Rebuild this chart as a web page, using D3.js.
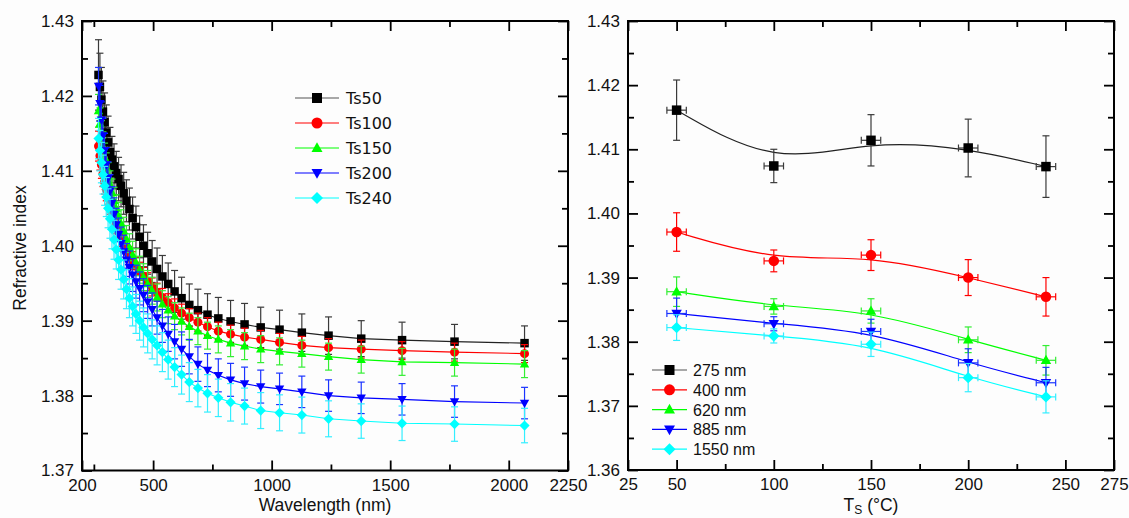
<!DOCTYPE html>
<html><head><meta charset="utf-8">
<script src="https://cdn.jsdelivr.net/npm/d3@7"></script>
<style>body{margin:0;background:#fff}svg{display:block}</style>
</head><body><svg id="c" width="1129" height="518"></svg>
<script>
// ---------- Left panel data ----------
const wavelength = [269.6,275.6,281.8,288.4,295.2,302.4,310.0,317.9,326.3,335.1,344.4,354.3,364.7,375.8,387.5,400.0,413.3,427.6,442.9,459.3,476.9,496.0,516.7,539.1,563.6,590.5,620.0,652.6,688.9,729.4,775.0,826.7,885.7,953.8,1033.3,1127.3,1240.0,1377.8,1550.0,1771.4,2066.7];
const nTs50 = [1.4228,1.4212,1.4195,1.4179,1.4165,1.4151,1.4138,1.4125,1.4115,1.4106,1.4097,1.4089,1.4080,1.4070,1.4060,1.4049,1.4037,1.4025,1.4012,1.4000,1.3990,1.3979,1.3969,1.3959,1.3949,1.3939,1.3930,1.3921,1.3914,1.3908,1.3903,1.3899,1.3895,1.3891,1.3888,1.3884,1.3880,1.3876,1.3874,1.3872,1.3870];
const nTs100 = [1.4133,1.4120,1.4108,1.4096,1.4085,1.4075,1.4065,1.4055,1.4046,1.4037,1.4028,1.4019,1.4011,1.4003,1.3995,1.3987,1.3980,1.3973,1.3966,1.3959,1.3952,1.3945,1.3938,1.3931,1.3924,1.3917,1.3910,1.3904,1.3898,1.3892,1.3886,1.3882,1.3878,1.3875,1.3871,1.3867,1.3864,1.3862,1.3860,1.3858,1.3856];
const nTs150 = [1.4180,1.4163,1.4147,1.4132,1.4118,1.4105,1.4093,1.4082,1.4071,1.4060,1.4050,1.4040,1.4030,1.4020,1.4009,1.3998,1.3988,1.3978,1.3968,1.3958,1.3949,1.3940,1.3931,1.3922,1.3914,1.3906,1.3899,1.3892,1.3886,1.3880,1.3875,1.3870,1.3866,1.3862,1.3859,1.3856,1.3852,1.3848,1.3845,1.3844,1.3842];
const nTs200 = [1.4213,1.4190,1.4168,1.4147,1.4127,1.4108,1.4090,1.4073,1.4057,1.4042,1.4028,1.4015,1.4003,1.3992,1.3981,1.3971,1.3961,1.3952,1.3943,1.3934,1.3925,1.3915,1.3904,1.3893,1.3882,1.3872,1.3862,1.3852,1.3842,1.3834,1.3827,1.3821,1.3816,1.3812,1.3809,1.3805,1.3800,1.3797,1.3795,1.3792,1.3790];
const nTs240 = [1.4143,1.4127,1.4111,1.4095,1.4080,1.4065,1.4050,1.4036,1.4022,1.4008,1.3995,1.3981,1.3968,1.3955,1.3942,1.3930,1.3919,1.3909,1.3900,1.3891,1.3883,1.3875,1.3867,1.3858,1.3848,1.3838,1.3828,1.3818,1.3810,1.3803,1.3797,1.3791,1.3786,1.3780,1.3777,1.3774,1.3769,1.3766,1.3763,1.3762,1.3760];
const errTs50 = [0.0047,0.0045,0.0043,0.0041,0.0039,0.0037,0.0035,0.0033,0.0031,0.0030,0.0029,0.0029,0.0028,0.0028,0.0028,0.0028,0.0028,0.0028,0.0028,0.0028,0.0028,0.0028,0.0028,0.0028,0.0028,0.0028,0.0028,0.0028,0.0028,0.0028,0.0028,0.0028,0.0028,0.0027,0.0026,0.0025,0.0025,0.0024,0.0024,0.0023,0.0023];
const errTs100 = [0.0020,0.0019,0.0018,0.0017,0.0016,0.0015,0.0014,0.0013,0.0013,0.0012,0.0012,0.0012,0.0012,0.0012,0.0012,0.0012,0.0012,0.0012,0.0012,0.0012,0.0012,0.0012,0.0012,0.0012,0.0012,0.0012,0.0012,0.0012,0.0012,0.0012,0.0012,0.0012,0.0012,0.0012,0.0012,0.0012,0.0012,0.0012,0.0012,0.0012,0.0012];
const errTs150 = [0.0022,0.0021,0.0020,0.0020,0.0019,0.0019,0.0018,0.0018,0.0018,0.0018,0.0018,0.0018,0.0018,0.0018,0.0018,0.0018,0.0018,0.0018,0.0018,0.0018,0.0018,0.0018,0.0018,0.0018,0.0018,0.0018,0.0018,0.0018,0.0018,0.0018,0.0018,0.0018,0.0018,0.0018,0.0018,0.0018,0.0018,0.0018,0.0018,0.0018,0.0018];
const errTs200 = [0.0025,0.0024,0.0024,0.0023,0.0023,0.0023,0.0022,0.0022,0.0022,0.0022,0.0022,0.0022,0.0022,0.0022,0.0022,0.0022,0.0022,0.0022,0.0022,0.0022,0.0022,0.0022,0.0022,0.0022,0.0023,0.0023,0.0023,0.0023,0.0023,0.0022,0.0022,0.0022,0.0022,0.0022,0.0021,0.0021,0.0021,0.0021,0.0021,0.0021,0.0021];
const errTs240 = [0.0027,0.0027,0.0027,0.0026,0.0026,0.0026,0.0026,0.0026,0.0026,0.0026,0.0026,0.0026,0.0026,0.0026,0.0026,0.0026,0.0026,0.0026,0.0026,0.0026,0.0026,0.0026,0.0026,0.0026,0.0026,0.0026,0.0026,0.0026,0.0025,0.0025,0.0025,0.0025,0.0024,0.0024,0.0024,0.0024,0.0024,0.0023,0.0023,0.0023,0.0023];
const leftNames = ["Ts50","Ts100","Ts150","Ts200","Ts240"];
const leftXTicks = [200,500,1000,1500,2000,2250];
const leftXMinor = [250,750,1250,1750];
const leftYTicks = [1.37,1.38,1.39,1.40,1.41,1.42,1.43];
const leftYMinor = [1.375,1.385,1.395,1.405,1.415,1.425];

// ---------- Right panel data ----------
const tsTemps = [50,100,150,200,240];
const tsErr = [5,5,5,5,5];
const n275 = [1.4161,1.4074,1.4114,1.4102,1.4073];
const n400 = [1.3971,1.3926,1.3935,1.3900,1.3870];
const n620 = [1.3878,1.3855,1.3848,1.3803,1.3771];
const n885 = [1.3844,1.3828,1.3816,1.3767,1.3736];
const n1550 = [1.3822,1.3809,1.3796,1.3744,1.3714];
const e275 = [0.0047,0.0026,0.0040,0.0045,0.0048];
const e400 = [0.0030,0.0017,0.0024,0.0028,0.0030];
const e620 = [0.0023,0.0012,0.0019,0.0020,0.0023];
const e885 = [0.0024,0.0011,0.0019,0.0022,0.0024];
const e1550 = [0.0020,0.0011,0.0019,0.0022,0.0025];
const rightNames = ["275 nm","400 nm","620 nm","885 nm","1550 nm"];
const rightXTicks = [25,50,100,150,200,250,275];
const rightXMinor = [75,125,175,225];
const rightYTicks = [1.36,1.37,1.38,1.39,1.40,1.41,1.42,1.43];
const rightYMinor = [1.365,1.375,1.385,1.395,1.405,1.415,1.425];

const colors = ["#000000","#ff0000","#00ff00","#0000ff","#00ffff"];
const barColors = ["#3a3a3a","#ff0000","#33ee33","#1a33ff","#33eeff"];
const symbols = ["square","circle","triangle","triangleDown","diamond"];

const svg = d3.select("#c");
svg.append("rect").attr("width",1129).attr("height",518).attr("fill","#fdfdfd");
const FONT = "'Liberation Sans', Arial, sans-serif";

function symPath(type, s) {
  const h = s/2;
  switch (type) {
    case "square": return `M${-h},${-h}H${h}V${h}H${-h}Z`;
    case "circle": return `M${h},0A${h},${h} 0 1,1 ${-h},0A${h},${h} 0 1,1 ${h},0Z`;
    case "triangle": return `M0,${-h*1.15}L${h*1.1},${h*0.8}L${-h*1.1},${h*0.8}Z`;
    case "triangleDown": return `M0,${h*1.15}L${h*1.1},${-h*0.8}L${-h*1.1},${-h*0.8}Z`;
    case "diamond": return `M0,${-h*1.2}L${h*1.2},0L0,${h*1.2}L${-h*1.2},0Z`;
  }
}

function drawAxes(x, y, xt, xm, yt, ym, fmtX) {
  const [x0, x1] = x.range();
  const [y0, y1] = y.range();
  const g = svg.append("g");
  const style = sel => {
    sel.select(".domain").remove();
    sel.selectAll(".tick line").attr("stroke","#000").attr("stroke-width",1.8);
    sel.selectAll("text").attr("font-family",FONT).attr("font-size",17).attr("fill","#111");
  };
  g.append("g").attr("transform",`translate(0,${y0})`)
    .call(d3.axisBottom(x).tickValues(xt).tickSize(-10).tickPadding(8).tickFormat(fmtX)).call(style);
  g.append("g").attr("transform",`translate(0,${y0})`)
    .call(d3.axisBottom(x).tickValues(xm).tickSize(-6).tickFormat("")).call(style);
  g.append("g").attr("transform",`translate(0,${y1})`)
    .call(d3.axisTop(x).tickValues(xt).tickSize(-10).tickFormat("")).call(style);
  g.append("g").attr("transform",`translate(0,${y1})`)
    .call(d3.axisTop(x).tickValues(xm).tickSize(-6).tickFormat("")).call(style);
  g.append("g").attr("transform",`translate(${x0},0)`)
    .call(d3.axisLeft(y).tickValues(yt).tickSize(-10).tickPadding(8).tickFormat(d3.format(".2f"))).call(style);
  g.append("g").attr("transform",`translate(${x0},0)`)
    .call(d3.axisLeft(y).tickValues(ym).tickSize(-6).tickFormat("")).call(style);
  g.append("g").attr("transform",`translate(${x1},0)`)
    .call(d3.axisRight(y).tickValues(yt).tickSize(-10).tickFormat("")).call(style);
  g.append("g").attr("transform",`translate(${x1},0)`)
    .call(d3.axisRight(y).tickValues(ym).tickSize(-6).tickFormat("")).call(style);
  g.append("rect").attr("x",x0).attr("y",y1).attr("width",x1-x0).attr("height",y0-y1)
    .attr("fill","none").attr("stroke","#000").attr("stroke-width",2);
}

// ---------- Left panel ----------
const xL = d3.scaleLinear().domain([200,2250]).range([82,568]);
const yL = d3.scaleLinear().domain([1.37,1.43]).range([470.5,21]);
const leftVals = [nTs50,nTs100,nTs150,nTs200,nTs240];
const leftErrs = [errTs50,errTs100,errTs150,errTs200,errTs240];

leftVals.forEach((vals, si) => {
  const pts = wavelength.map((w,i)=>({x:w, y:vals[i], e:leftErrs[si][i]}));
  const g = svg.append("g");
  g.append("path").datum(pts)
    .attr("d", d3.line().x(d=>xL(d.x)).y(d=>yL(d.y)))
    .attr("fill","none").attr("stroke", si===0?"#222":colors[si]).attr("stroke-width",1.1);
  const eb = g.append("g").attr("stroke",barColors[si]).attr("stroke-width",1.2);
  pts.forEach(d => {
    const cx = xL(d.x), t = yL(d.y+d.e), b = yL(d.y-d.e);
    eb.append("line").attr("x1",cx).attr("x2",cx).attr("y1",t).attr("y2",b);
    eb.append("line").attr("x1",cx-3.5).attr("x2",cx+3.5).attr("y1",t).attr("y2",t);
    eb.append("line").attr("x1",cx-3.5).attr("x2",cx+3.5).attr("y1",b).attr("y2",b);
  });
  g.selectAll("path.m").data(pts).join("path").attr("class","m")
    .attr("transform", d=>`translate(${xL(d.x)},${yL(d.y)})`)
    .attr("d", symPath(symbols[si], si===1?9:8.5))
    .attr("fill", colors[si]);
});

drawAxes(xL, yL, leftXTicks, leftXMinor, leftYTicks, leftYMinor, d3.format("d"));

// left legend
const legL = svg.append("g").attr("transform","translate(295,0)");
leftNames.forEach((name,i)=>{
  const yy = 98 + i*25;
  legL.append("line").attr("x1",0).attr("x2",44).attr("y1",yy).attr("y2",yy)
    .attr("stroke", i===0?"#555":colors[i]).attr("stroke-width",1.2);
  legL.append("path").attr("transform",`translate(22,${yy})`)
    .attr("d", symPath(symbols[i], i===1?11:10)).attr("fill",colors[i]);
  legL.append("text").attr("x",51).attr("y",yy+6).text(name)
    .attr("font-family","'DejaVu Sans', Verdana, sans-serif").attr("font-size",16).attr("fill","#111");
});

// left axis titles
svg.append("text").attr("transform","translate(26,248) rotate(-90)").attr("text-anchor","middle")
  .attr("font-family",FONT).attr("font-size",17.5).attr("fill","#111").text("Refractive index");
svg.append("text").attr("x",325).attr("y",511).attr("text-anchor","middle")
  .attr("font-family",FONT).attr("font-size",17.5).attr("fill","#111").text("Wavelength (nm)");

// ---------- Right panel ----------
const xR = d3.scaleLinear().domain([25,275]).range([628,1114]);
const yR = d3.scaleLinear().domain([1.36,1.43]).range([470,21]);
const rightVals = [n275,n400,n620,n885,n1550];
const rightErrs = [e275,e400,e620,e885,e1550];

rightVals.forEach((vals, si) => {
  const pts = tsTemps.map((t,i)=>({x:t, y:vals[i], e:rightErrs[si][i], ex:tsErr[i]}));
  const g = svg.append("g");
  g.append("path").datum(pts)
    .attr("d", d3.line().curve(d3.curveBasis).x(d=>xR(d.x)).y(d=>yR(d.y)))
    .attr("fill","none").attr("stroke", si===0?"#222":colors[si]).attr("stroke-width",1.2);
  const eb = g.append("g").attr("stroke",barColors[si]).attr("stroke-width",1.2);
  pts.forEach(d => {
    const cx = xR(d.x), cy = yR(d.y), t = yR(d.y+d.e), b = yR(d.y-d.e);
    const l = xR(d.x-d.ex), r = xR(d.x+d.ex);
    eb.append("line").attr("x1",cx).attr("x2",cx).attr("y1",t).attr("y2",b);
    eb.append("line").attr("x1",cx-3.5).attr("x2",cx+3.5).attr("y1",t).attr("y2",t);
    eb.append("line").attr("x1",cx-3.5).attr("x2",cx+3.5).attr("y1",b).attr("y2",b);
    eb.append("line").attr("x1",l).attr("x2",r).attr("y1",cy).attr("y2",cy);
    eb.append("line").attr("x1",l).attr("x2",l).attr("y1",cy-3.5).attr("y2",cy+3.5);
    eb.append("line").attr("x1",r).attr("x2",r).attr("y1",cy-3.5).attr("y2",cy+3.5);
  });
  g.selectAll("path.m").data(pts).join("path").attr("class","m")
    .attr("transform", d=>`translate(${xR(d.x)},${yR(d.y)})`)
    .attr("d", symPath(symbols[si], si===1?10.5:9.5))
    .attr("fill", colors[si]);
});

drawAxes(xR, yR, rightXTicks, rightXMinor, rightYTicks, rightYMinor, d3.format("d"));

// right legend
const legR = svg.append("g").attr("transform","translate(652,0)");
rightNames.forEach((name,i)=>{
  const yy = 370 + i*19.8;
  legR.append("line").attr("x1",0).attr("x2",35).attr("y1",yy).attr("y2",yy)
    .attr("stroke", i===0?"#555":colors[i]).attr("stroke-width",1.2);
  legR.append("path").attr("transform",`translate(17.5,${yy})`)
    .attr("d", symPath(symbols[i], i===1?11:10)).attr("fill",colors[i]);
  legR.append("text").attr("x",41).attr("y",yy+6).text(name)
    .attr("font-family",FONT).attr("font-size",16).attr("fill","#111");
});

// right x title
const tt = svg.append("text").attr("x",871).attr("y",511).attr("text-anchor","middle")
  .attr("font-family",FONT).attr("font-size",17.5).attr("fill","#111");
tt.append("tspan").text("T");
tt.append("tspan").attr("font-size",12).attr("dy",3).text("S");
tt.append("tspan").attr("dy",-3).text(" (°C)");
</script>
</body></html>
